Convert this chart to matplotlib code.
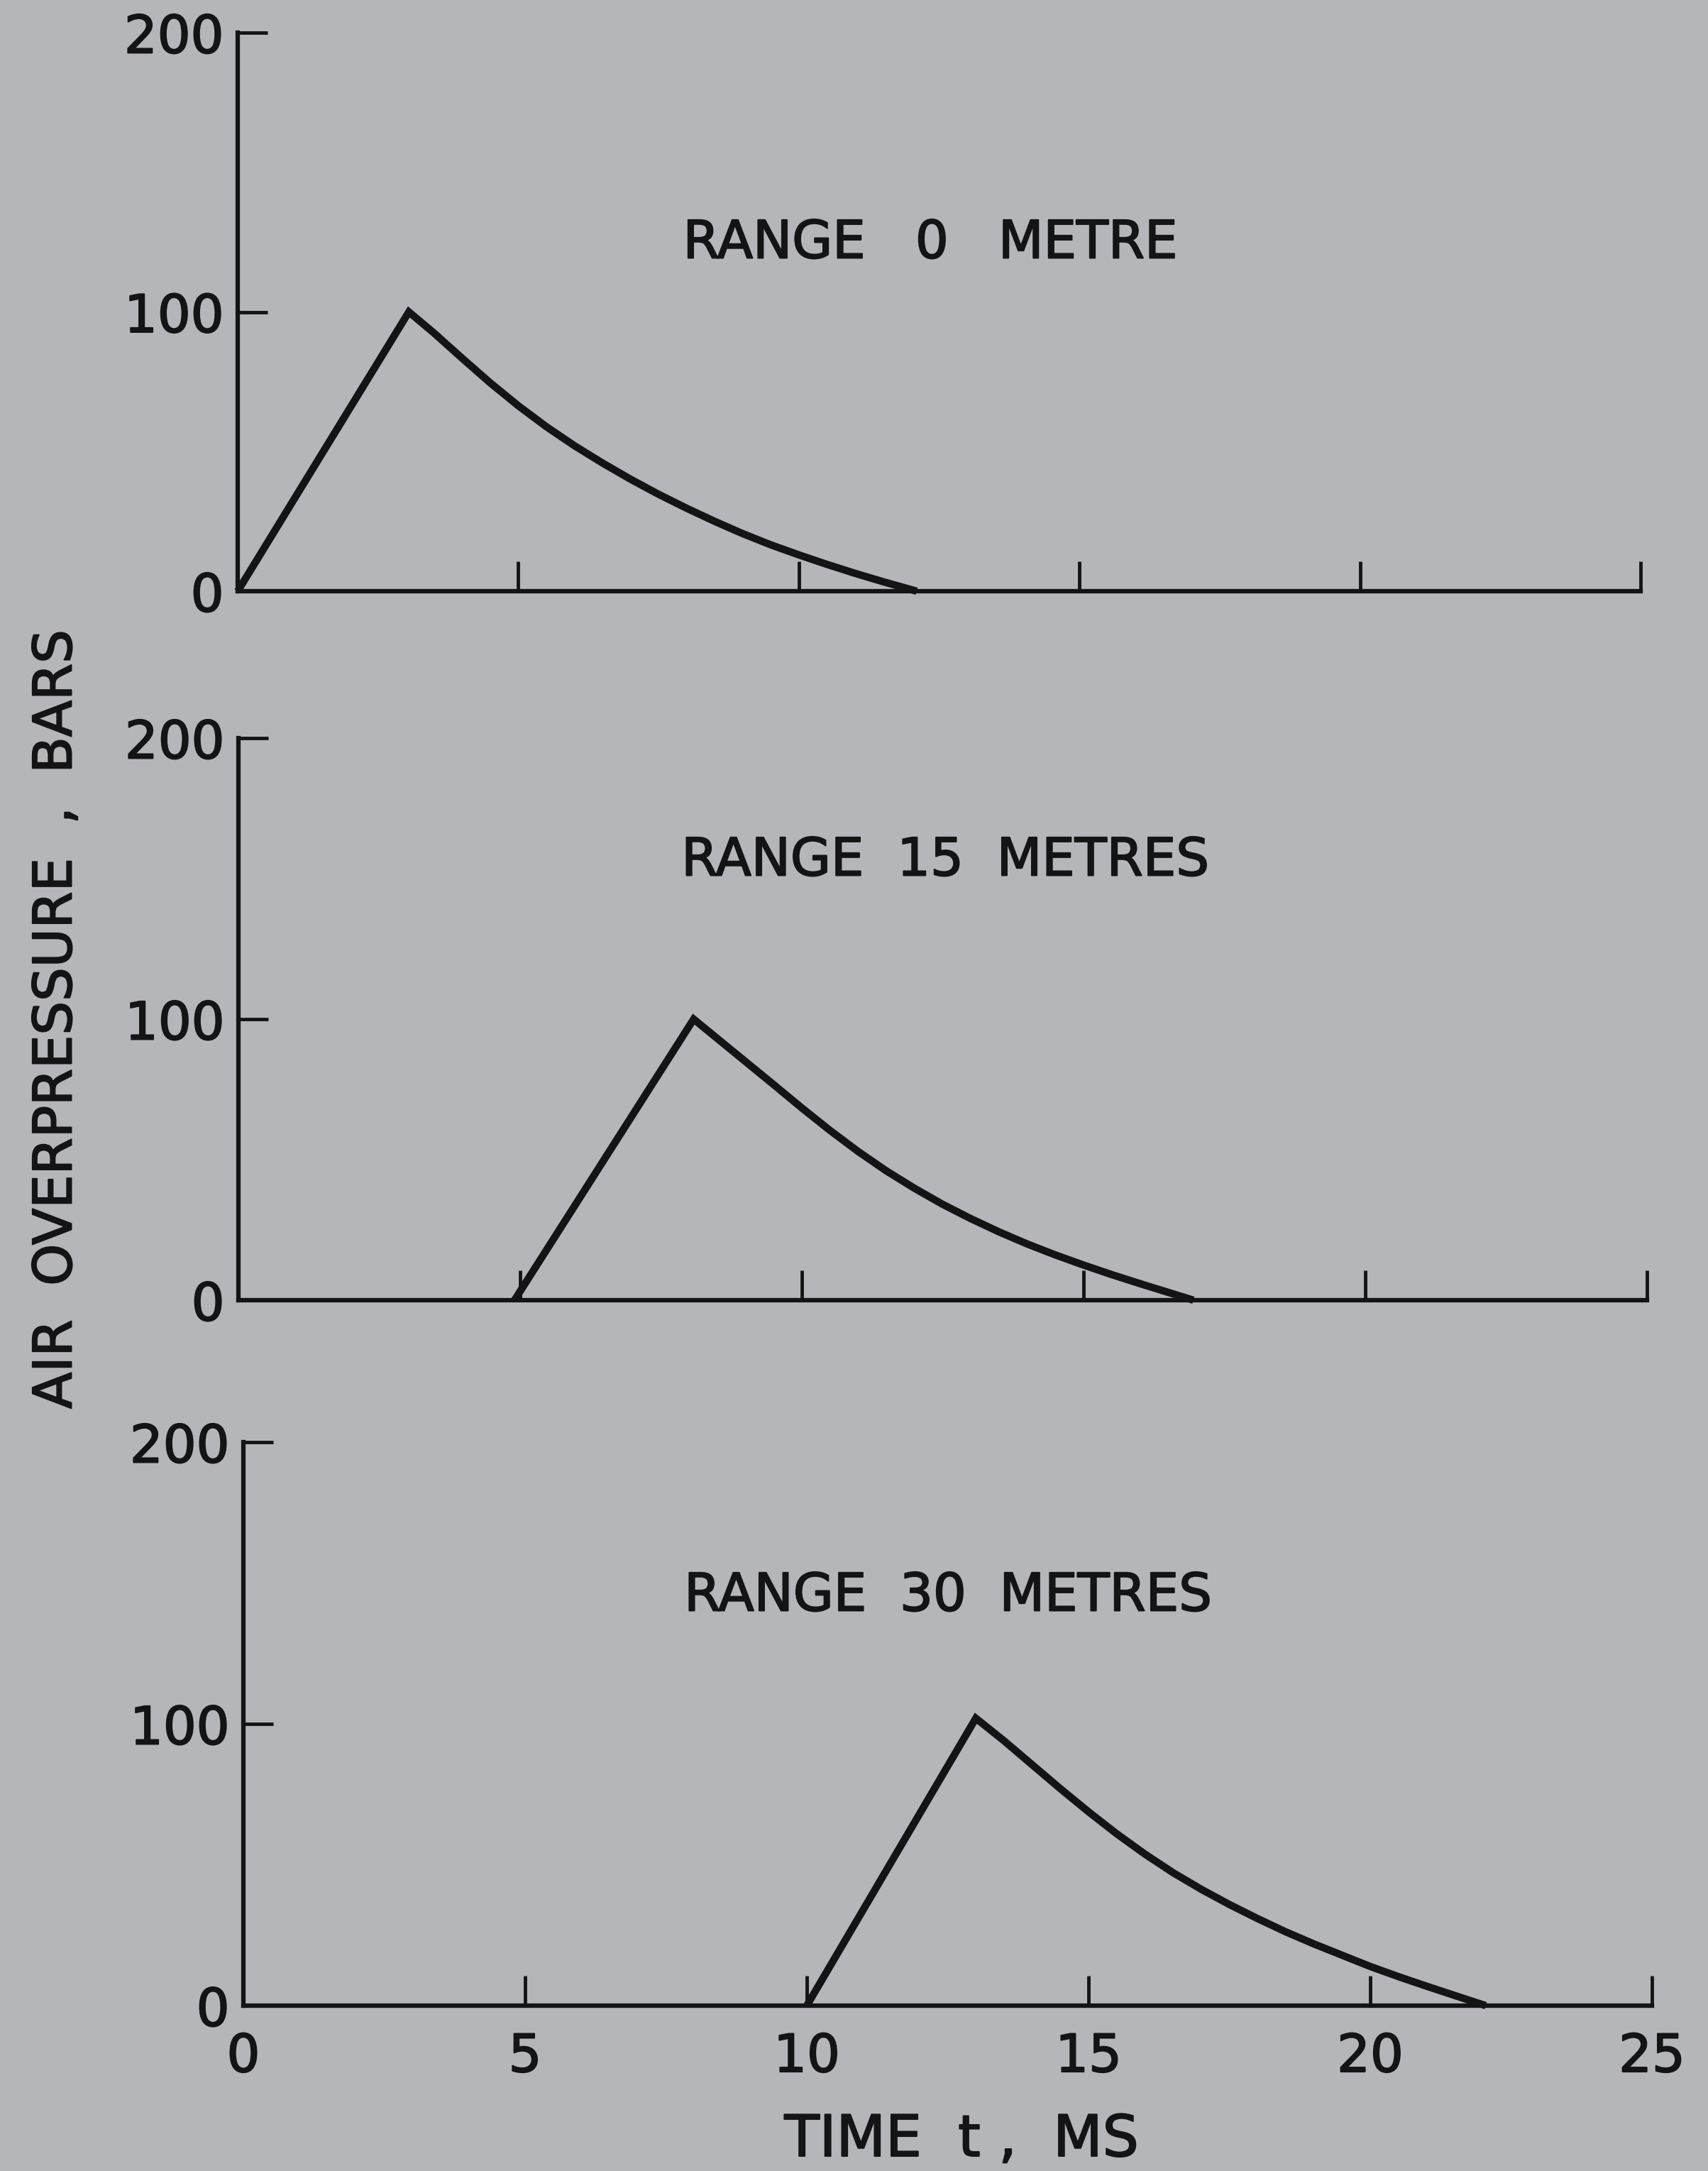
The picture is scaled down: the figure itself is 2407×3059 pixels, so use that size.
import matplotlib
matplotlib.use("Agg")
import matplotlib.pyplot as plt
import matplotlib.patheffects as pe

# ---- data ----
titles = ["RANGE   0   METRE", "RANGE  15  METRES", "RANGE  30  METRES"]

t_0m = [0.0, 3.05, 3.5, 4.0, 4.5, 5.0, 5.5, 6.0, 6.5, 7.0, 7.5, 8.0, 8.5, 9.0, 9.5, 10.0, 10.5, 11.0, 11.5, 12.1]
p_0m = [0.0, 100.0, 92.4, 83.4, 74.6, 66.4, 58.9, 52.1, 45.9, 40.1, 34.7, 29.7, 25.0, 20.6, 16.6, 13.0, 9.6, 6.4, 3.4, 0.0]

t_15m = [4.9, 8.08, 8.5, 9.0, 9.5, 10.0, 10.5, 11.0, 11.5, 12.0, 12.5, 13.0, 13.5, 14.0, 14.5, 15.0, 15.5, 16.0, 16.5, 16.95]
p_15m = [0.0, 100.0, 93.1, 84.9, 76.7, 68.4, 60.4, 52.9, 46.0, 39.8, 34.1, 29.0, 24.3, 20.0, 16.1, 12.5, 9.1, 5.9, 2.8, 0.0]

t_30m = [10.0, 13.0, 13.5, 14.0, 14.5, 15.0, 15.5, 16.0, 16.5, 17.0, 17.5, 18.0, 18.5, 19.0, 19.5, 20.0, 20.5, 21.0, 21.5, 22.05]
p_30m = [0.0, 102.0, 94.0, 85.5, 77.0, 68.8, 61.0, 53.8, 47.2, 41.3, 35.9, 30.9, 26.2, 21.9, 17.9, 13.9, 10.3, 6.9, 3.6, 0.0]

x_ticks = [0, 5, 10, 15, 20, 25]
y_ticks = [0, 100, 200]

series = [(t_0m, p_0m), (t_15m, p_15m), (t_30m, p_30m)]

# ---- styling ----
BG = "#b4b6ba"
INK = "#141414"
plt.rcParams["font.family"] = ["DejaVu Sans"]
thick = [pe.withStroke(linewidth=1.4, foreground=INK)]

W, H = 2407, 3059
fig = plt.figure(figsize=(W / 100, H / 100), dpi=100, facecolor=BG)

# axes rectangles in pixels: (left, right, top(200), bottom(0))
rects_px = [(335, 2312, 46, 833), (336, 2321, 1040, 1832), (343, 2328, 2032, 2826)]

for i, ((l, r, tp, bt), (tt, pp)) in enumerate(zip(rects_px, series)):
    ax = fig.add_axes([l / W, 1 - bt / H, (r - l) / W, (bt - tp) / H])
    ax.set_facecolor("none")
    ax.plot(tt, pp, color=INK, lw=7.5, solid_joinstyle="miter", solid_capstyle="butt", clip_on=False)
    ax.set_xlim(0, 25)
    ax.set_ylim(0, 200)
    for s in ["top", "right"]:
        ax.spines[s].set_visible(False)
    for s in ["left", "bottom"]:
        ax.spines[s].set_color(INK)
        ax.spines[s].set_linewidth(4.5)
    ax.set_yticks(y_ticks)
    ax.set_yticklabels([str(v) for v in y_ticks])
    if i == 2:
        ax.set_xticks(x_ticks)
        ax.set_xticklabels([str(v) for v in x_ticks])
    else:
        ax.set_xticks(x_ticks[1:])
        ax.set_xticklabels([])
    ax.tick_params(axis="both", direction="in", length=30, width=3.5, color=INK,
                   labelsize=53, labelcolor=INK)
    ax.tick_params(axis="y", pad=14)
    ax.tick_params(axis="x", pad=26)
    for lab in ax.get_xticklabels() + ax.get_yticklabels():
        lab.set_path_effects(thick)

# panel titles (centres in pixels)
title_pos = [(1311, 343), (1332, 1213), (1336, 2249)]
for (cx, cy), title in zip(title_pos, titles):
    fig.text(cx / W, 1 - cy / H, title, ha="center", va="center", fontsize=53, color=INK,
             path_effects=thick)

# axis labels
fig.text(80 / W, 1 - 1436 / H, "AIR  OVERPRESSURE  ,  BARS", rotation=90, ha="center", va="center",
         fontsize=54, color=INK, path_effects=thick)
fig.text(1355 / W, 1 - 3016 / H, "TIME  t ,  MS", ha="center", va="center", fontsize=58, color=INK,
         path_effects=thick)

fig.savefig("out.png", dpi=100, facecolor=BG)
